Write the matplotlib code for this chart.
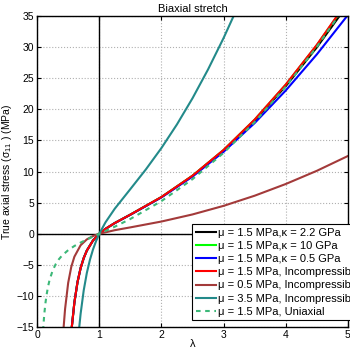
import matplotlib
matplotlib.use('Agg')
import matplotlib.pyplot as plt

plt.rcParams['font.family'] = ['Liberation Sans', 'DejaVu Sans']
plt.rcParams['mathtext.fontset'] = 'custom'
plt.rcParams['mathtext.rm'] = 'Liberation Sans'
plt.rcParams['mathtext.it'] = 'Liberation Sans'

# stretch values (lambda) for each curve
lam_main = [0.5, 0.558, 0.6, 0.65, 0.7, 0.75, 0.8, 0.9, 1.0, 1.1, 1.25, 1.5, 2.0, 2.5, 3.0, 3.5, 4.0, 4.5, 5.0]
# mu = 1.5 MPa, incompressible
s_incomp = [-23.6, -15.0, -11.03, -7.77, -5.51, -3.90, -2.70, -1.07, 0.0, 0.79, 1.73, 3.08, 5.91, 9.34, 13.48, 18.36, 23.99, 30.37, 37.50]
# mu = 1.5 MPa, kappa = 2.2 GPa
s_k22 = [-23.6, -15.0, -11.03, -7.77, -5.51, -3.90, -2.70, -1.07, 0.0, 0.79, 1.73, 3.07, 5.89, 9.30, 13.40, 18.21, 23.73, 29.96, 36.87]
# mu = 1.5 MPa, kappa = 10 GPa
s_k10 = [-23.6, -15.0, -11.03, -7.77, -5.51, -3.90, -2.70, -1.07, 0.0, 0.79, 1.73, 3.08, 5.90, 9.33, 13.46, 18.33, 23.95, 30.30, 37.40]
# mu = 1.5 MPa, kappa = 0.5 GPa
s_k05 = [-23.6, -15.0, -11.03, -7.77, -5.51, -3.90, -2.70, -1.07, 0.0, 0.79, 1.72, 3.06, 5.85, 9.19, 13.18, 17.80, 23.03, 28.83, 35.16]

lam_soft = [0.4, 0.425, 0.45, 0.5, 0.55, 0.6, 0.7, 0.8, 0.9, 1.0, 1.25, 1.5, 2.0, 2.5, 3.0, 3.5, 4.0, 4.5, 5.0]
s_soft = [-19.45, -15.23, -12.09, -7.88, -5.31, -3.68, -1.84, -0.90, -0.36, 0.0, 0.58, 1.03, 1.97, 3.11, 4.49, 6.12, 8.00, 10.12, 12.50]

lam_stiff = [0.65, 0.67, 0.7, 0.75, 0.8, 0.85, 0.9, 0.95, 1.0, 1.1, 1.25, 1.5, 1.75, 2.0, 2.25, 2.5, 2.75, 3.0, 3.25]
s_stiff = [-18.13, -15.80, -12.86, -9.09, -6.30, -4.18, -2.50, -1.14, 0.0, 1.84, 4.04, 7.18, 10.35, 13.78, 17.58, 21.78, 26.41, 31.46, 36.94]

lam_uni = [0.08, 0.09, 0.1, 0.11, 0.12, 0.135, 0.15, 0.175, 0.2, 0.25, 0.3, 0.35, 0.4, 0.5, 0.6, 0.7, 0.8, 0.9, 1.0,
           1.25, 1.5, 2.0, 2.5, 3.0, 3.5, 4.0, 4.5, 5.0]
s_uni = [-18.74, -16.65, -14.99, -13.62, -12.48, -11.08, -9.97, -8.53, -7.44, -5.91, -4.87, -4.10, -3.51, -2.63, -1.96,
         -1.41, -0.92, -0.45, 0.0, 1.14, 2.38, 5.25, 8.78, 13.0, 17.95, 23.63, 30.04, 37.2]

labels = [
    'μ = 1.5 MPa,κ = 2.2 GPa',
    'μ = 1.5 MPa,κ = 10 GPa',
    'μ = 1.5 MPa,κ = 0.5 GPa',
    'μ = 1.5 MPa, Incompressible',
    'μ = 0.5 MPa, Incompressible',
    'μ = 3.5 MPa, Incompressible',
    'μ = 1.5 MPa, Uniaxial',
]

fig = plt.figure(figsize=(3.5, 3.48), dpi=100)
ax = fig.add_axes([0.106, 0.060, 0.888, 0.894])
ax.set_axisbelow(True)

ax.axvline(1, color='black', lw=1.0, zorder=1)
ax.axhline(0, color='black', lw=1.0, zorder=1)

lw = 1.5
ax.plot(lam_main, s_k22, color='black', lw=lw, label=labels[0])
ax.plot(lam_main, s_k10, color='#00ff00', lw=lw, label=labels[1])
ax.plot(lam_main, s_k05, color='#0000ff', lw=lw, label=labels[2])
ax.plot(lam_main, s_incomp, color='#ff0000', lw=lw, label=labels[3])
ax.plot(lam_soft, s_soft, color='#a33a3a', lw=lw, label=labels[4])
ax.plot(lam_stiff, s_stiff, color='#238a8a', lw=lw, label=labels[5])
ax.plot(lam_uni, s_uni, color='#3cb878', lw=lw, ls='--', dashes=(2.2, 2.2), label=labels[6])

ax.set_xlim(0, 5)
ax.set_ylim(-15, 35)
ax.set_xticks(range(0, 6))
ax.set_yticks(range(-15, 36, 5))
ax.grid(True, ls=':', color='#b0b0b0', lw=0.8)
ax.tick_params(direction='in', top=True, right=True, labelsize=7.5, length=3, pad=2)
for sp in ax.spines.values():
    sp.set_linewidth(1.0)
    sp.set_zorder(5)

ax.set_title('Biaxial stretch', fontsize=8, pad=3)
ax.set_xlabel('λ', fontsize=8, labelpad=-1)
ax.set_ylabel('True axial stress (σ$_{11}$ ) (MPa)', fontsize=7.5, labelpad=2)

leg = ax.legend(loc='lower left', bbox_to_anchor=(0.5, 0.022), borderaxespad=0,
                fontsize=8, handlelength=1.8, handletextpad=0.2, labelspacing=0.29,
                borderpad=0.3, fancybox=False, framealpha=1, edgecolor='black')
leg.get_frame().set_linewidth(0.8)
leg.set_zorder(6)

fig.savefig('out.png', dpi=100)
